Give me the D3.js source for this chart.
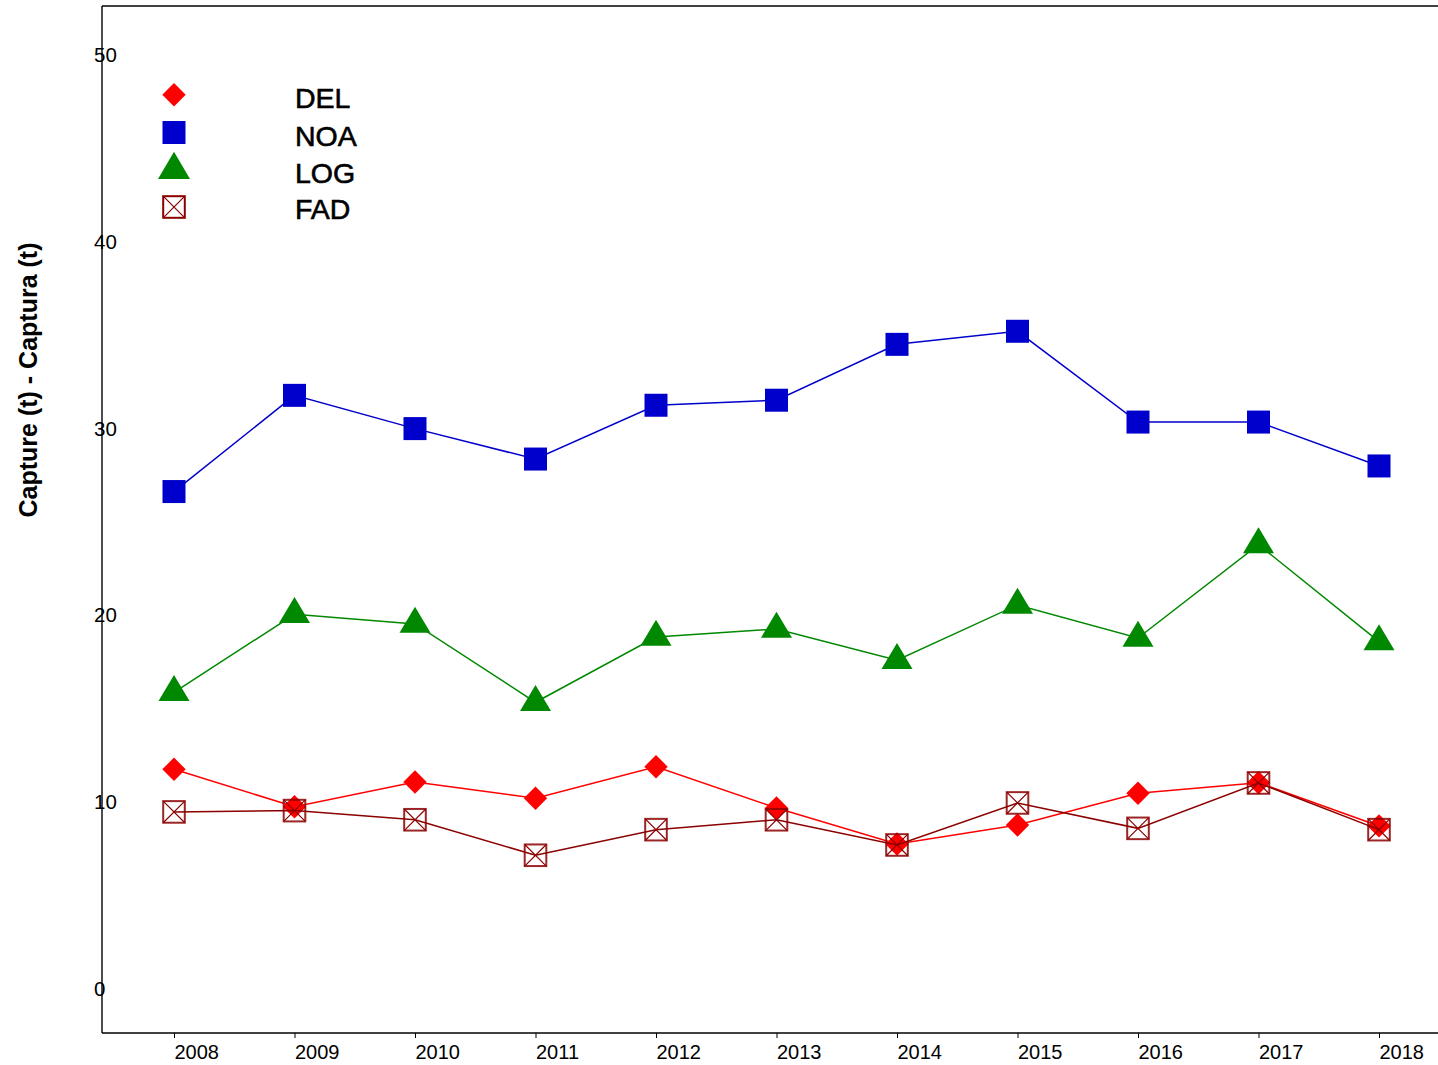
<!DOCTYPE html>
<html>
<head>
<meta charset="utf-8">
<script src="https://cdn.jsdelivr.net/npm/d3@7"></script>
<style>
  html, body { margin: 0; padding: 0; background: #fff; }
  svg { display: block; font-family: "Liberation Sans", Arial, sans-serif; }
</style>
</head>
<body>
<svg id="chart" width="1438" height="1065"></svg>
<script>
const years = [2008, 2009, 2010, 2011, 2012, 2013, 2014, 2015, 2016, 2017, 2018];
const del = [11.76, 9.76, 11.08, 10.21, 11.9, 9.69, 7.76, 8.78, 10.48, 11.04, 8.73];
const noa = [26.63, 31.78, 30.0, 28.37, 31.25, 31.52, 34.51, 35.21, 30.35, 30.35, 28.0];
const log = [15.88, 20.06, 19.54, 15.35, 18.84, 19.27, 17.6, 20.56, 18.79, 23.79, 18.6];
const fad = [9.48, 9.55, 9.06, 7.16, 8.53, 9.06, 7.71, 9.96, 8.6, 11.03, 8.53];
const yTicks = [0, 10, 20, 30, 40, 50];
const seriesNames = ["DEL", "NOA", "LOG", "FAD"];
const yTitle = "Capture (t) - Captura (t)";

const series = [
  { name: seriesNames[0], values: del, color: "#ff0000", shape: "diamond" },
  { name: seriesNames[1], values: noa, color: "#0000cc", shape: "square" },
  { name: seriesNames[2], values: log, color: "#008800", shape: "triangle" },
  { name: seriesNames[3], values: fad, color: "#8b0000", shape: "xbox" }
];

const svg = d3.select("#chart");
const frameL = 102, frameT = 6, frameB = 1033, frameR = 1438;

const x = d3.scaleLinear().domain([2008, 2018]).range([174, 1379]);
const y = d3.scaleLinear().domain([0, 50]).range([989, 55]);

// frame lines (left, bottom, top)
svg.append("line").attr("x1", frameL).attr("x2", frameL).attr("y1", frameT).attr("y2", frameB)
  .attr("stroke", "#000").attr("stroke-width", 1.4);
svg.append("line").attr("x1", frameL).attr("x2", frameR).attr("y1", frameB).attr("y2", frameB)
  .attr("stroke", "#000").attr("stroke-width", 1.4);
svg.append("line").attr("x1", frameL).attr("x2", frameR).attr("y1", frameT).attr("y2", frameT)
  .attr("stroke", "#000").attr("stroke-width", 1.6);

// x axis
const xAxis = d3.axisBottom(x).tickValues(years).tickFormat(d3.format("d")).tickSize(5).tickPadding(8);
const gx = svg.append("g").attr("transform", `translate(0,${frameB})`).call(xAxis);
gx.select(".domain").remove();
gx.selectAll(".tick line").attr("stroke", "#000").attr("stroke-width", 1);
gx.selectAll(".tick text").attr("font-size", 20).attr("fill", "#000")
  .attr("font-family", "Liberation Sans, Arial, sans-serif")
  .attr("text-anchor", "start").attr("dy", "0.71em").attr("y", 12);

// y axis labels (no ticks)
const yAxis = d3.axisLeft(y).tickValues(yTicks).tickSize(0).tickPadding(0);
const gy = svg.append("g").attr("transform", `translate(94,0)`).call(yAxis);
gy.select(".domain").remove();
gy.selectAll(".tick text").attr("font-size", 20.5).attr("fill", "#000")
  .attr("font-family", "Liberation Sans, Arial, sans-serif")
  .attr("text-anchor", "start").attr("x", 0);

// y title
svg.append("text")
  .attr("transform", "translate(37,380) rotate(-90)")
  .attr("text-anchor", "middle")
  .attr("font-size", 25).attr("font-weight", "bold").attr("fill", "#000")
  .text(yTitle);

function drawMarker(g, shape, color, legend) {
  if (shape === "diamond") {
    const r = 11.7;
    g.append("path").attr("d", `M0,${-r}L${r},0L0,${r}L${-r},0Z`).attr("fill", color);
  } else if (shape === "square") {
    const s = 23;
    g.append("rect").attr("x", -s / 2).attr("y", -s / 2).attr("width", s).attr("height", s).attr("fill", color);
  } else if (shape === "triangle") {
    const w = legend ? 16 : 15.5, ht = legend ? 18 : 17.3, hb = legend ? 9.3 : 8.7;
    g.append("path").attr("d", `M0,${-ht}L${w},${hb}L${-w},${hb}Z`).attr("fill", color);
  } else if (shape === "xbox") {
    const s = 10.8;
    g.append("rect").attr("x", -s).attr("y", -s).attr("width", 2 * s).attr("height", 2 * s)
      .attr("fill", "none").attr("stroke", color).attr("stroke-width", 2).attr("stroke-opacity", legend ? 1 : 0.85);
    g.append("path").attr("d", `M${-s},${-s}L${s},${s}M${s},${-s}L${-s},${s}`)
      .attr("stroke", color).attr("stroke-width", 1.2).attr("fill", "none");
  }
}

const line = d3.line().x((d, i) => x(years[i])).y(d => y(d));

series.forEach(s => {
  svg.append("path").datum(s.values).attr("d", line)
    .attr("fill", "none").attr("stroke", s.color).attr("stroke-width", 1.5);
  s.values.forEach((v, i) => {
    const g = svg.append("g").attr("transform", `translate(${x(years[i])},${y(v)})`);
    drawMarker(g, s.shape, s.color, false);
  });
});

// legend
const legendY = [94.7, 132.5, 169.7, 207];
const legendTextY = [108.3, 145.7, 182.7, 219.3];
series.forEach((s, i) => {
  const g = svg.append("g").attr("transform", `translate(174,${legendY[i]})`);
  drawMarker(g, s.shape, s.color, true);
  svg.append("text").attr("x", 295).attr("y", legendTextY[i])
    .attr("font-size", 28.5).attr("fill", "#000").attr("font-weight", "normal")
    .attr("stroke", "#000").attr("stroke-width", 0.6)
    .text(s.name);
});
</script>
</body>
</html>
